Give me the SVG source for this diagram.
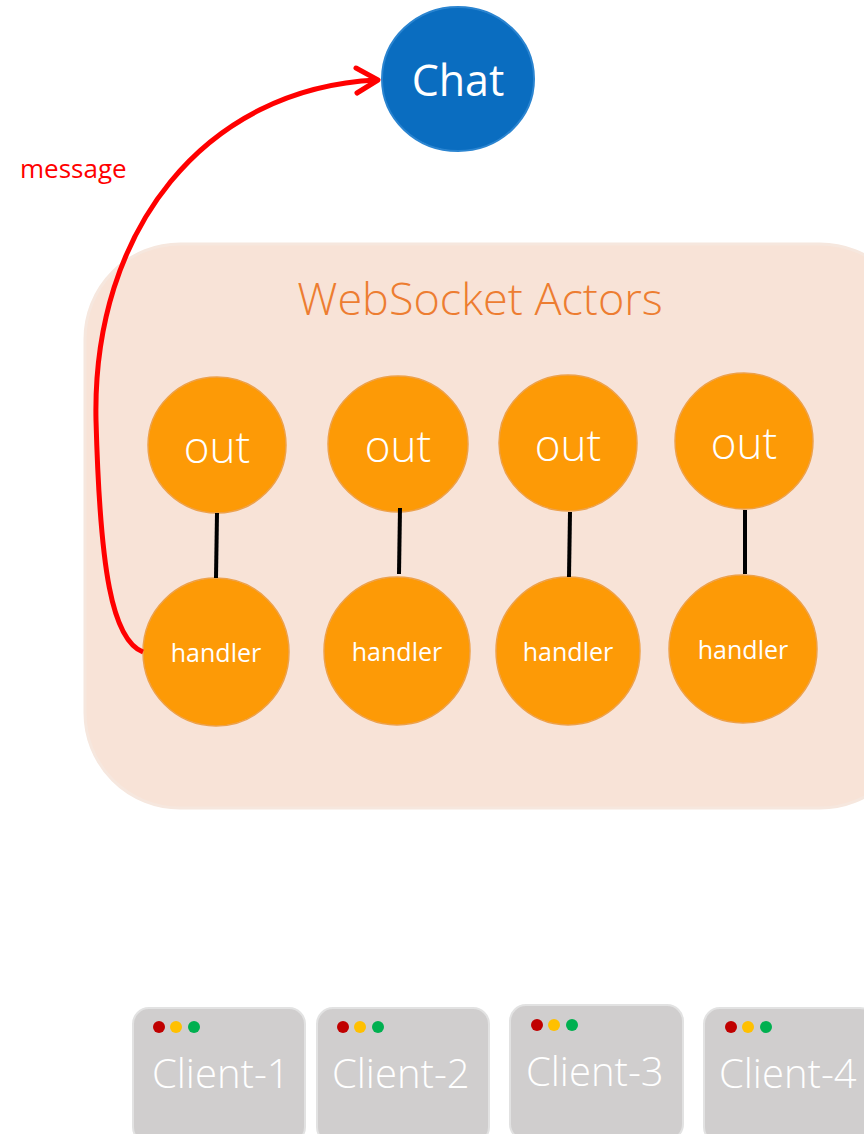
<svg xmlns="http://www.w3.org/2000/svg" width="864" height="1134" viewBox="0 0 864 1134">
<style>
.orb{fill:#fd9a06;stroke:#eda14a;stroke-width:1.5}
.out{font-family:"Open Sans","Noto Sans",sans-serif;font-weight:300;font-size:44px;fill:#fff;text-anchor:middle}
.hdl{font-family:"Open Sans","Noto Sans",sans-serif;font-size:25px;fill:#fff;text-anchor:middle}
.cli{fill:#d0cece;stroke:#e2e2e2;stroke-width:2}
.ctx{font-family:"Open Sans","Noto Sans",sans-serif;font-weight:300;font-size:40px;fill:#fff}
.link{stroke:#000;stroke-width:4}
</style>
<rect width="864" height="1134" fill="#fff"/>
<g id="panel">
<rect x="85" y="244" width="830" height="564" rx="95" fill="#f8e3d7" stroke="#f6e7de" stroke-width="3"/>
<text x="480" y="315" font-family="Open Sans, Noto Sans, sans-serif" font-weight="300" font-size="45" fill="#ed7d31" text-anchor="middle">WebSocket Actors</text>
</g>
<g id="chat">
<ellipse cx="458" cy="79" rx="76" ry="72" fill="#0a6dc0" stroke="#2a84d0" stroke-width="2"/>
<text x="458" y="96" font-family="Open Sans, Noto Sans, sans-serif" font-size="43" fill="#fff" text-anchor="middle">Chat</text>
</g>
<g id="out1"><ellipse class="orb" cx="217" cy="445" rx="69" ry="68"/><text class="out" x="217" y="463">out</text></g>
<g id="out2"><ellipse class="orb" cx="398" cy="444" rx="70" ry="68"/><text class="out" x="398" y="462">out</text></g>
<g id="out3"><ellipse class="orb" cx="568" cy="443" rx="69" ry="68"/><text class="out" x="568" y="461">out</text></g>
<g id="out4"><ellipse class="orb" cx="744" cy="441" rx="69" ry="68"/><text class="out" x="744" y="459">out</text></g>
<g id="handler1"><ellipse class="orb" cx="216" cy="652" rx="73" ry="74"/><text class="hdl" x="216" y="662">handler</text></g>
<g id="handler2"><ellipse class="orb" cx="397" cy="651" rx="73" ry="74"/><text class="hdl" x="397" y="661">handler</text></g>
<g id="handler3"><ellipse class="orb" cx="568" cy="651" rx="72" ry="74"/><text class="hdl" x="568" y="661">handler</text></g>
<g id="handler4"><ellipse class="orb" cx="743" cy="649" rx="74" ry="74"/><text class="hdl" x="743" y="659">handler</text></g>
<g id="connectors" fill="none">
<line class="link" x1="217" y1="513" x2="216" y2="578"/>
<line class="link" x1="400" y1="508" x2="399" y2="574"/>
<line class="link" x1="570" y1="512" x2="569" y2="577"/>
<line class="link" x1="745" y1="510" x2="745" y2="574"/>
<path d="M143,652 C112,640 100,570 96,420 C92,230 205,88 377,80" stroke="#ff0000" stroke-width="5"/>
<path d="M356,68 L378,80 L357,93" stroke="#ff0000" stroke-width="5" stroke-linecap="round" stroke-linejoin="round"/>
<text x="20" y="178" font-family="Open Sans, Noto Sans, sans-serif" font-size="26" fill="#ff0000">message</text>
</g>
<g id="client1">
<rect class="cli" x="133" y="1008" width="172" height="135" rx="16"/>
<circle cx="159" cy="1027" r="6" fill="#c00000"/><circle cx="176" cy="1027" r="6" fill="#ffc000"/><circle cx="194" cy="1027" r="6" fill="#00b050"/>
<text class="ctx" x="152" y="1088">Client-1</text>
</g>
<g id="client2">
<rect class="cli" x="317" y="1008" width="172" height="135" rx="16"/>
<circle cx="343" cy="1027" r="6" fill="#c00000"/><circle cx="360" cy="1027" r="6" fill="#ffc000"/><circle cx="378" cy="1027" r="6" fill="#00b050"/>
<text class="ctx" x="332" y="1088">Client-2</text>
</g>
<g id="client3">
<rect class="cli" x="510" y="1005" width="173" height="135" rx="16"/>
<circle cx="537" cy="1025" r="6" fill="#c00000"/><circle cx="554" cy="1025" r="6" fill="#ffc000"/><circle cx="572" cy="1025" r="6" fill="#00b050"/>
<text class="ctx" x="526" y="1086">Client-3</text>
</g>
<g id="client4">
<rect class="cli" x="704" y="1008" width="172" height="135" rx="16"/>
<circle cx="731" cy="1027" r="6" fill="#c00000"/><circle cx="748" cy="1027" r="6" fill="#ffc000"/><circle cx="766" cy="1027" r="6" fill="#00b050"/>
<text class="ctx" x="719" y="1088">Client-4</text>
</g>
</svg>
